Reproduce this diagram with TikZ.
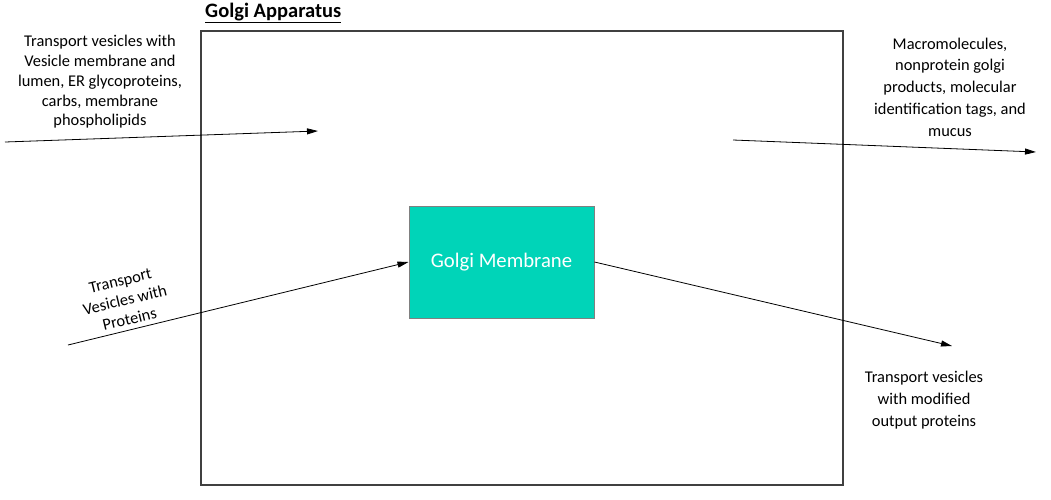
\documentclass[tikz,border=0pt]{standalone}
\usepackage{fontspec}
\setmainfont{Carlito}
\usepackage{xcolor}
\usetikzlibrary{arrows.meta}
\definecolor{golgigreen}{RGB}{0,212,184}

\begin{document}
\begin{tikzpicture}[x=1pt, y=-1pt, thin, black,
    flow/.style={-{Triangle[length=11pt,width=6pt]}, line width=0.8pt},
    txt/.style={align=center, font=\fontsize{16.4}{19.8}\selectfont}]

    \useasboundingbox (0,0) rectangle (1051,499);

    %coordinates
    \coordinate (A) at (201,31); % apparatus top left
    \coordinate (B) at (843,485); % apparatus bottom right
    \coordinate (I1) at (5,142); %vesicles in
    \coordinate (I2) at (318,131);
    \coordinate (P1) at (68,345); %proteins in
    \coordinate (P2) at (952,346); %proteins out
    \coordinate (M1) at (733,140); %macromolecules out
    \coordinate (M2) at (1036,152);

    %apparatus
    \draw[line width=1.3pt, color=black!75] (A) rectangle (B);
    \node[anchor=base west, inner sep=0pt, font=\fontsize{20.5}{22}\selectfont\bfseries] (title) at (205,17.5)
    {\underline{Golgi Apparatus}};

    %membrane
    \node[draw=black!50, line width=1pt, fill=golgigreen, minimum width=185pt, minimum height=112pt,
    text=white, font=\fontsize{20.7}{22}\selectfont] (mem) at (501.5,262) {\raisebox{-3pt}{Golgi Membrane}};

    %arrows
    \draw[flow] (I1) -- (I2);
    \draw[flow] (P1) -- (mem.west);
    \draw[flow] (mem.east) -- (P2);
    \draw[flow] (M1) -- (M2);

    %labels
    \node[txt] (vin) at (100,82)
    {Transport vesicles with \\ Vesicle membrane and \\ lumen, ER glycoproteins, \\ carbs, membrane \\ phospholipids};
    \node[txt, rotate=13.5] (pin) at (125,300)
    {Transport \\ Vesicles with \\ Proteins};
    \node[txt, font=\fontsize{16.4}{21.8}\selectfont] (mout) at (950,87)
    {Macromolecules, \\ nonprotein golgi \\ products, molecular \\ identification tags, and \\ mucus};
    \node[txt, font=\fontsize{16.4}{22}\selectfont] (pout) at (924,400)
    {Transport vesicles \\ with modified \\ output proteins};

\end{tikzpicture}
\end{document}
